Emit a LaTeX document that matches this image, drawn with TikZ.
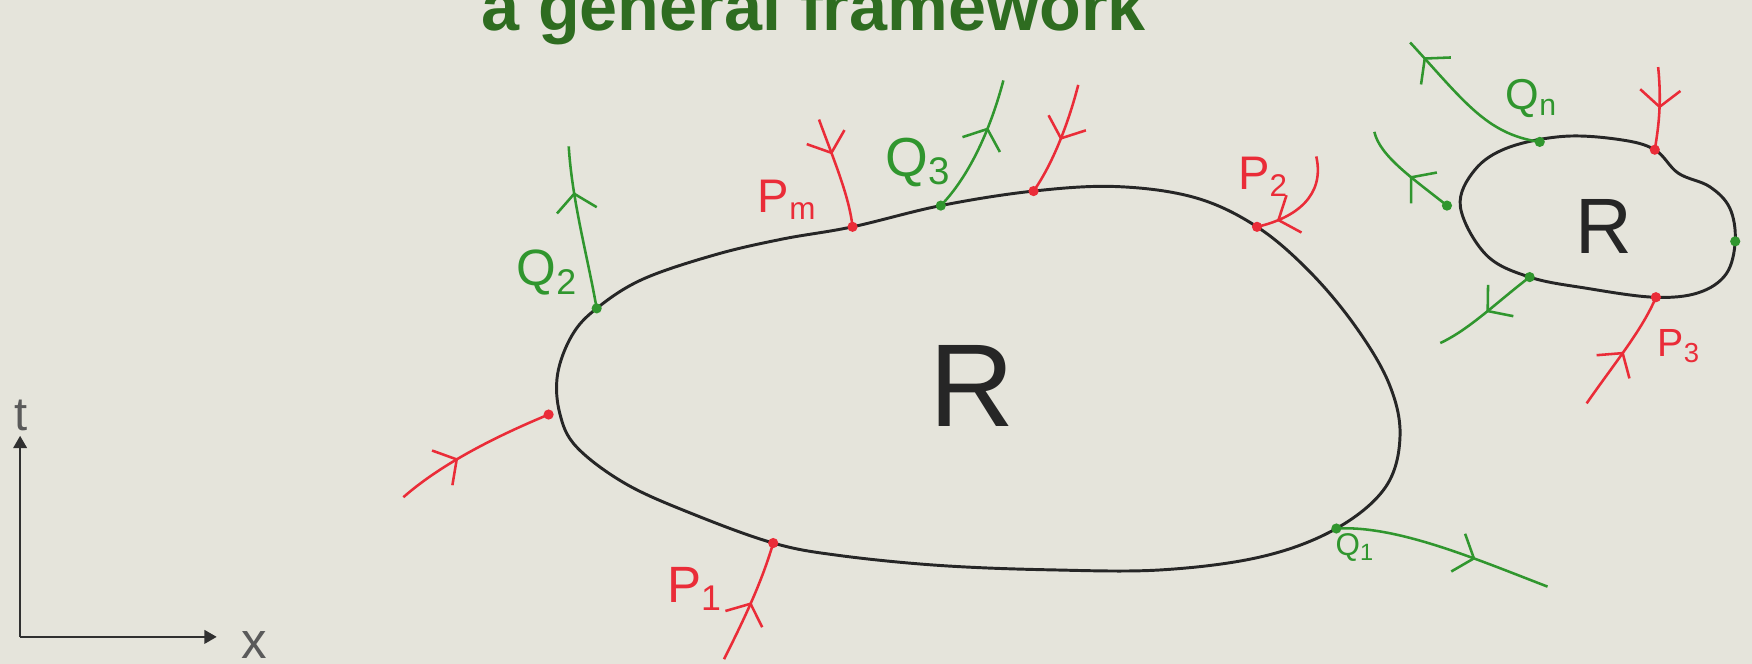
\documentclass[tikz,border=0pt]{standalone}
\usepackage{fontspec}
\setmainfont{Liberation Sans}
\usetikzlibrary{arrows.meta,decorations.markings}

\definecolor{board}{RGB}{229,228,219}
\definecolor{inred}{RGB}{234,44,56}
\definecolor{outgreen}{RGB}{48,150,46}
\definecolor{titlegreen}{RGB}{46,108,32}
\definecolor{axisgray}{RGB}{48,48,48}

\tikzset{
  chev/.style={decoration={markings, mark=at position #1 with {\arrow{Straight Barb[length=1.5mm,width=3.6mm]}}}, postaction={decorate}},
  inflow/.style={inred, line width=0.65pt, chev=#1},
  inflow/.default=0.5,
  outflow/.style={outgreen, line width=0.65pt, chev=#1},
  outflow/.default=0.5,
  hand/.style={inner sep=0pt, font=\fontsize{#1}{#1}\selectfont},
}

\begin{document}
\begin{tikzpicture}[x=0.1mm, y=-0.1mm]
  \fill[board] (0,0) rectangle (1568,594);
  \useasboundingbox (0,0) rectangle (1568,594);

  % title
  \node[anchor=base, text=titlegreen, font=\fontsize{17.4}{20}\selectfont\bfseries] (title) at (728,27) {a general framework};

  % axes
  \coordinate (o) at (18,570);
  \coordinate (ttip) at (18,390);
  \coordinate (xtip) at (194,570);
  \draw[axisgray, line width=0.6pt, -{Triangle[length=1.1mm,width=1.2mm]}] (o) -- (ttip);
  \draw[axisgray, line width=0.6pt, -{Triangle[length=1.1mm,width=1.2mm]}] (o) -- (xtip);
  \node[hand=12, text=axisgray!80] (tlab) at (19,372) {t};
  \node[hand=13, text=axisgray!80] (xlab) at (228,577) {x};

  % big region
  \draw[black!85, line width=0.75pt] plot[smooth cycle, tension=0.6] coordinates {
    (499,335) (512,300) (534,276) (575,250) (640,228) (700,214) (763,203)
    (842,184) (925,171) (1000,167) (1070,177) (1125,203) (1172,243)
    (1213,292) (1243,343) (1253,390) (1240,436) (1196,473) (1130,498)
    (1040,510) (940,510) (840,506) (750,497) (692,486) (620,460)
    (560,433) (516,400) (501,370)};
  \node[hand=30, text=black!85] (bigR) at (870,345) {R};

  % small region
  \draw[black!85, line width=0.75pt] plot[smooth cycle, tension=0.6] coordinates {
    (1307,185) (1320,152) (1350,132) (1400,122) (1450,125) (1481,134)
    (1502,155) (1530,167) (1548,186) (1553,215) (1545,245) (1520,262)
    (1480,266) (1420,258) (1369,248) (1330,228)};
  \node[hand=20, text=black!85] (smallR) at (1435,203) {R};

  % points on the boundaries
  \coordinate (pa) at (491,371);
  \coordinate (p1) at (692,486);
  \coordinate (pm) at (763,203);
  \coordinate (pb) at (925,171);
  \coordinate (p2) at (1125,203);
  \coordinate (pn) at (1481,134);
  \coordinate (p3) at (1482,266);
  \coordinate (q1) at (1196,473);
  \coordinate (q2) at (534,276);
  \coordinate (q3) at (842,184);
  \coordinate (qn) at (1378,127);
  \coordinate (qa) at (1295,184);
  \coordinate (qb) at (1369,248);
  \coordinate (qc) at (1553,216);

  % free ends
  \coordinate (pa0) at (361,445);
  \coordinate (p10) at (648,590);
  \coordinate (pm0) at (733,107);
  \coordinate (pb0) at (965,76);
  \coordinate (p20) at (1178,140);
  \coordinate (pn0) at (1484,60);
  \coordinate (p30) at (1420,361);
  \coordinate (q11) at (1385,525);
  \coordinate (q21) at (509,131);
  \coordinate (q31) at (898,72);
  \coordinate (qn1) at (1262,38);
  \coordinate (qa1) at (1230,118);
  \coordinate (qb1) at (1289,307);

  % incoming
  \draw[inflow=0.4] (pa0) .. controls (395,415) and (445,390) .. (pa);
  \draw[inflow=0.5] (p10) .. controls (668,550) and (682,520) .. (p1);
  \draw[inflow=0.33] (pm0) .. controls (745,140) and (760,175) .. (pm);
  \draw[inflow=0.5] (pb0) .. controls (955,115) and (940,150) .. (pb);
  \draw[inflow=0.8] (p20) .. controls (1186,175) and (1160,195) .. (p2);
  \draw[inflow=0.5] (pn0) .. controls (1487,90) and (1485,110) .. (pn);
  \draw[inflow=0.5] (p30) .. controls (1445,325) and (1470,295) .. (p3);

  % outgoing
  \draw[outflow=0.65] (q1) .. controls (1250,470) and (1320,500) .. (q11);
  \draw[outflow=0.72] (q2) .. controls (526,230) and (512,180) .. (q21);
  \draw[outflow=0.65] (q3) .. controls (870,155) and (888,110) .. (q31);
  \draw[outflow=0.88] (qn) .. controls (1330,120) and (1310,90) .. (qn1);
  \draw[outflow=0.45] (qa) .. controls (1265,160) and (1235,140) .. (qa1);
  \draw[outflow=0.5] (qb) .. controls (1340,270) and (1315,295) .. (qb1);

  % dots
  \foreach \pt in {pa,p1,pm,pb,p2,pn,p3} \fill[inred] (\pt) circle (1.3pt);
  \foreach \pt in {q1,q2,q3,qn,qa,qb,qc} \fill[outgreen] (\pt) circle (1.3pt);

  % labels
  \node[hand=13, text=inred] (lp1) at (622,527) {P\textsubscript{1}};
  \node[hand=12, text=inred] (lpm) at (705,179) {P\textsubscript{m}};
  \node[hand=12, text=inred] (lp2) at (1131,158) {P\textsubscript{2}};
  \node[hand=10, text=inred] (lp3) at (1503,310) {P\textsubscript{3}};
  \node[hand=8, text=outgreen] (lq1) at (1213,490) {Q\textsubscript{1}};
  \node[hand=13, text=outgreen] (lq2) at (490,244) {Q\textsubscript{2}};
  \node[hand=14, text=outgreen] (lq3) at (822,145) {Q\textsubscript{3}};
  \node[hand=11, text=outgreen] (lqn) at (1371,88) {Q\textsubscript{n}};
\end{tikzpicture}
\end{document}
